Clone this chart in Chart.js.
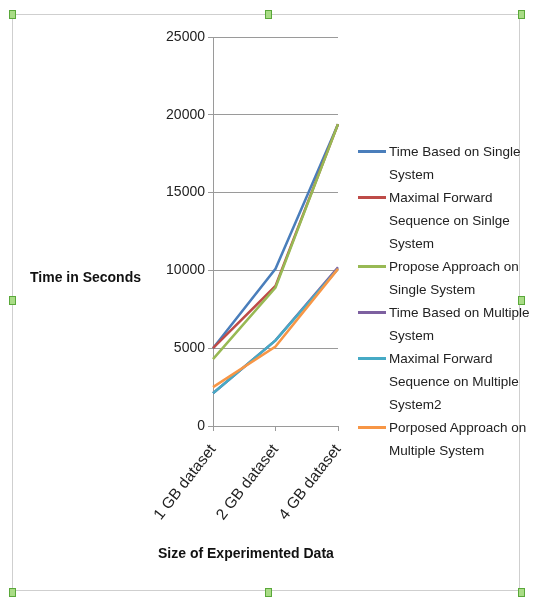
<!DOCTYPE html>
<html>
<head>
<meta charset="utf-8">
<script src="https://cdn.jsdelivr.net/npm/chart.js@4/dist/chart.umd.min.js"></script>
<style>
  html, body { margin: 0; padding: 0; background: #fff; }
  #wrap { position: relative; width: 542px; height: 598px; overflow: hidden; font-family: "Liberation Sans", Arial, sans-serif; }
  #frame { position: absolute; left: 12px; top: 14px; width: 508px; height: 577px; border: 1px solid #cfcfcf; box-sizing: border-box; }
  .handle { position: absolute; width: 5px; height: 7px; border: 1px solid #5aa83a; background: #a9dc86; }
  #chart { position: absolute; left: 0; top: 0; }
  .axtitle { position: absolute; font-weight: bold; font-size: 14px; color: #111; white-space: nowrap; }
  #legend { position: absolute; left: 358px; top: 140px; font-size: 13.5px; line-height: 23px; color: #222; }
  .item { display: flex; align-items: flex-start; }
  .swatch { width: 28px; height: 3px; margin-top: 10px; margin-right: 3px; flex: none; }
</style>
</head>
<body>
<div id="wrap">
  <div id="frame"></div>
  <canvas id="chart" width="542" height="598"></canvas>
  <div class="axtitle" style="left:30px; top:269px;">Time in Seconds</div>
  <div class="axtitle" style="left:158px; top:545px;">Size of Experimented Data</div>
  <div id="legend"></div>
</div>
<script>
// Dataset sizes on the x axis
const categories = ["1 GB dataset", "2 GB dataset", "4 GB dataset"];

// Series names (split into the lines shown in the legend)
const seriesNames = [
  ["Time Based on Single", "System"],
  ["Maximal Forward", "Sequence on Sinlge", "System"],
  ["Propose Approach on", "Single System"],
  ["Time Based on Multiple", "System"],
  ["Maximal Forward", "Sequence on Multiple", "System2"],
  ["Porposed Approach on", "Multiple System"]
];

// Execution time in seconds
const timeBasedSingle      = [5000, 10100, 19400];
const maxForwardSingle     = [5000, 9000, 19400];
const proposeSingle        = [4300, 8900, 19400];
const timeBasedMultiple    = [2100, 5500, 10200];
const maxForwardMultiple   = [2100, 5500, 10100];
const proposedMultiple     = [2500, 5100, 10100];

const yTicks = [0, 5000, 10000, 15000, 20000, 25000];

const colors = ["#4a7ebb", "#be4b48", "#98b954", "#7d60a0", "#46aac5", "#f79646"];
const seriesValues = [timeBasedSingle, maxForwardSingle, proposeSingle,
                      timeBasedMultiple, maxForwardMultiple, proposedMultiple];

// selection handles around the chart frame
const handlePos = [[12,14],[268,14],[521,14],[12,300],[521,300],[12,592],[268,592],[521,592]];
const wrap = document.getElementById('wrap');
handlePos.forEach(([x, y]) => {
  const h = document.createElement('div');
  h.className = 'handle';
  h.style.left = (x - 3) + 'px';
  h.style.top = (y - 4) + 'px';
  wrap.appendChild(h);
});

const datasets = seriesValues.map((vals, i) => ({
  label: seriesNames[i].join(' '),
  data: vals,
  borderColor: colors[i],
  backgroundColor: colors[i],
  borderWidth: 2.5,
  pointRadius: 0,
  tension: 0,
  fill: false,
  order: seriesValues.length - i
}));

const gridColor = '#9a9a9a';

const chart = new Chart(document.getElementById('chart'), {
  type: 'line',
  data: { labels: categories, datasets },
  options: {
    responsive: false,
    animation: false,
    devicePixelRatio: 1,
    layout: { padding: { left: 0, top: 37, right: 204, bottom: 72 } },
    plugins: { legend: { display: false }, tooltip: { enabled: false } },
    scales: {
      x: {
        offset: false,
        grid: { display: true, drawOnChartArea: false, drawTicks: true, tickLength: 5, color: gridColor },
        border: { display: true, color: gridColor, width: 1 },
        ticks: {
          maxRotation: 52, minRotation: 52, padding: 10,
          color: '#222', font: { family: '"Liberation Sans", Arial, sans-serif', size: 15.5 }
        },
        afterFit: (s) => { s.height = 100; }
      },
      y: {
        min: 0, max: 25000,
        afterBuildTicks: (s) => { s.ticks = yTicks.map(v => ({ value: v })); },
        grid: { color: gridColor, tickLength: 5, lineWidth: 1 },
        border: { display: true, color: gridColor, width: 1 },
        ticks: {
          padding: 3, color: '#222',
          callback: (v) => String(v),
          font: { family: '"Liberation Sans", Arial, sans-serif', size: 14 }
        },
        afterFit: (s) => { s.width = 213; }
      }
    }
  }
});

// legend built from the chart's datasets
const legend = document.getElementById('legend');
chart.data.datasets.forEach((ds, i) => {
  const item = document.createElement('div');
  item.className = 'item';
  const sw = document.createElement('div');
  sw.className = 'swatch';
  sw.style.background = ds.borderColor;
  const txt = document.createElement('div');
  txt.innerHTML = seriesNames[i].join('<br>');
  item.appendChild(sw);
  item.appendChild(txt);
  legend.appendChild(item);
});
</script>
</body>
</html>
